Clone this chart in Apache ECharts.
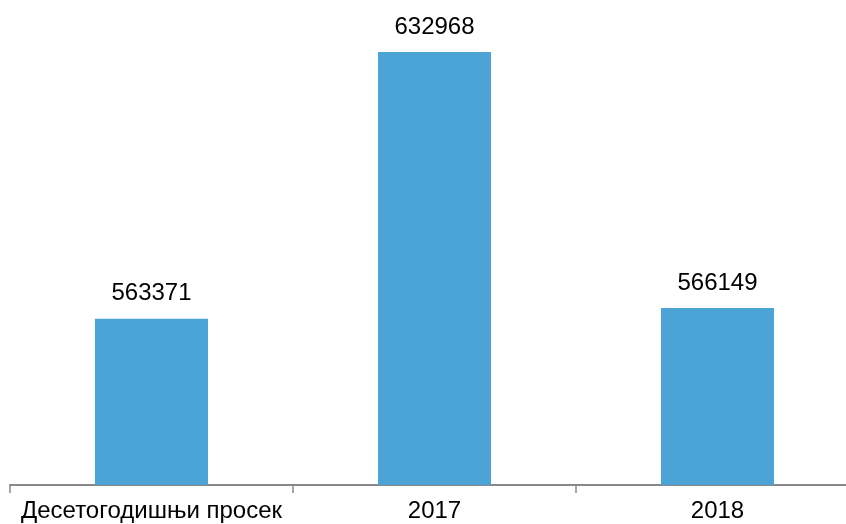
<!DOCTYPE html>
<html>
<head>
<meta charset="utf-8">
<script src="https://cdn.jsdelivr.net/npm/echarts@6/dist/echarts.min.js"></script>
<style>
html,body{margin:0;padding:0;background:#fff;overflow:hidden;width:846px;height:524px;}
#chart{width:859px;height:524px;}
</style>
</head>
<body>
<div id="chart"></div>
<script>
const categories = ['Десетогодишњи просек', '2017', '2018'];
const values = [563371, 632968, 566149];
const yMin = 520000;
const yMax = 640000;

const chart = echarts.init(document.getElementById('chart'), null, {renderer: 'canvas'});
chart.setOption({
  animation: false,
  backgroundColor: '#ffffff',
  textStyle: {fontFamily: 'Liberation Sans, Arial, sans-serif'},
  grid: {left: 10, top: 25, bottom: 39, right: 0, containLabel: false},
  xAxis: {
    type: 'category',
    data: categories,
    axisLine: {lineStyle: {color: '#898989', width: 2}},
    axisTick: {show: true, length: 8, lineStyle: {color: '#898989', width: 1.5}},
    axisLabel: {color: '#000', fontSize: 24, margin: 14, interval: 0}
  },
  yAxis: {
    type: 'value',
    min: yMin,
    max: yMax,
    show: false,
    splitLine: {show: false}
  },
  series: [{
    type: 'bar',
    data: values,
    barWidth: 113,
    itemStyle: {color: '#4BA3D6'},
    label: {show: true, position: 'top', distance: 13, color: '#000', fontSize: 24}
  }]
});
</script>
</body>
</html>
